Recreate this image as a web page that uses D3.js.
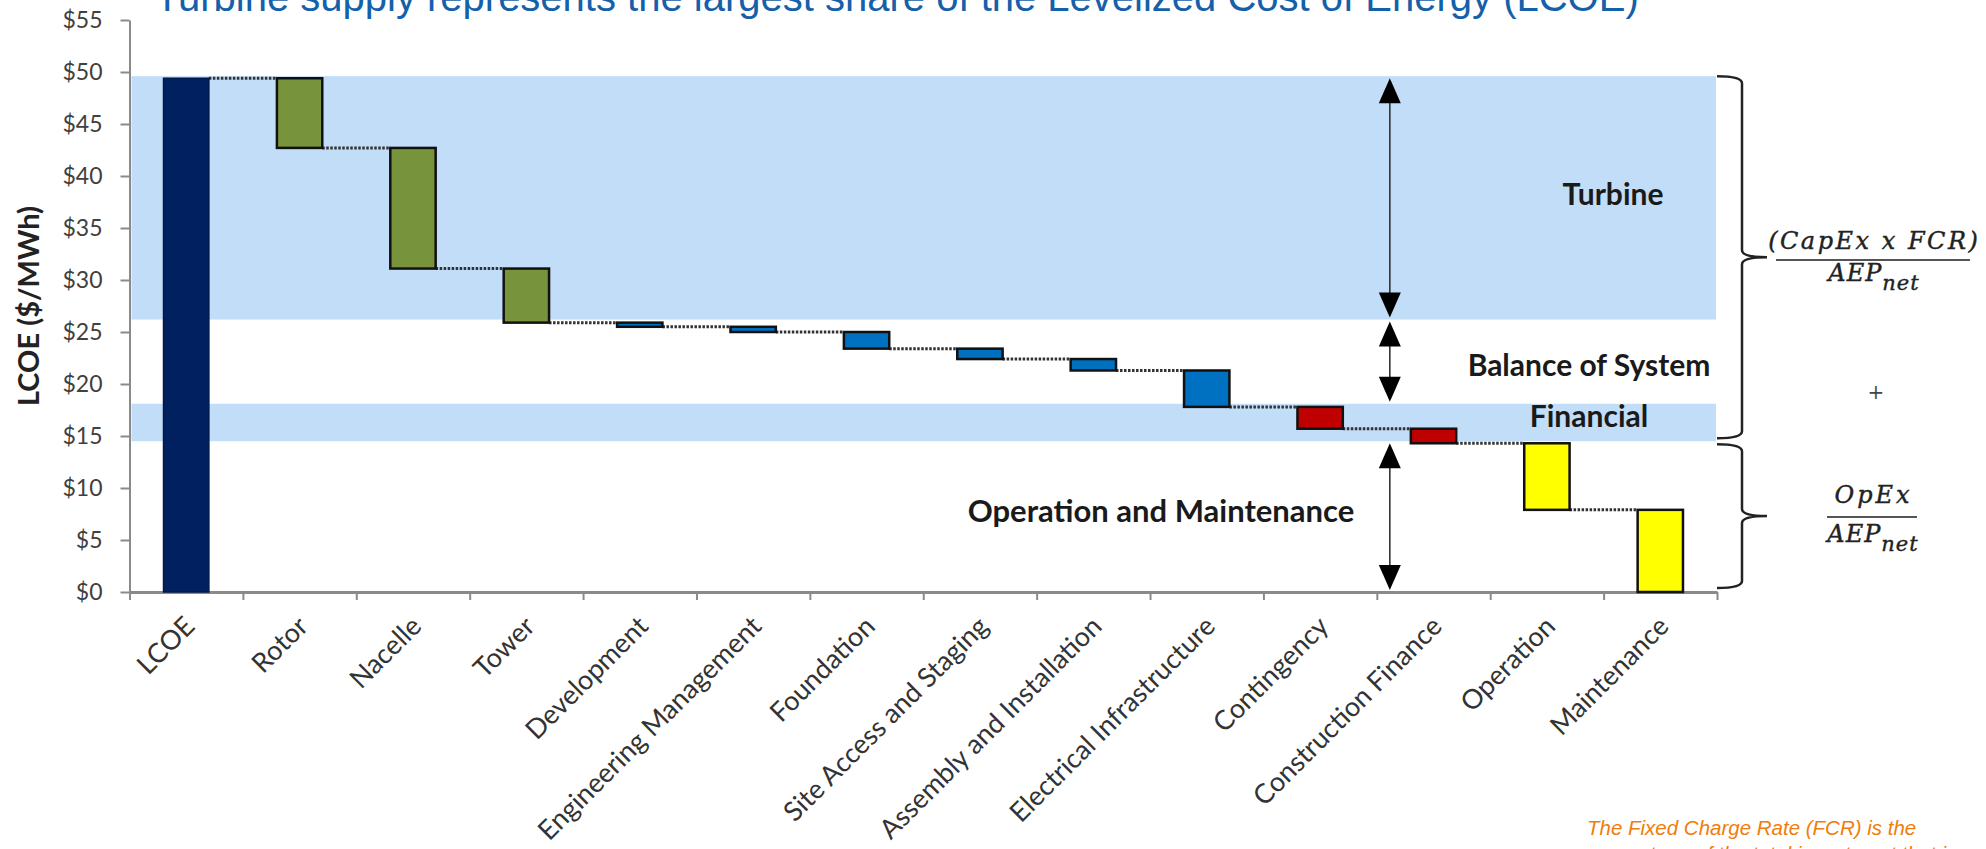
<!DOCTYPE html>
<html>
<head>
<meta charset="utf-8">
<script src="https://cdn.jsdelivr.net/npm/d3@7"></script>
<style>
  html, body { margin: 0; padding: 0; background: #fff; }
  svg { display: block; }
</style>
</head>
<body>
<svg id="chart" width="1986" height="849"></svg>
<script>
// ---- data ($/MWh) ----
const categories = ["LCOE", "Rotor", "Nacelle", "Tower", "Development", "Engineering Management",
  "Foundation", "Site Access and Staging", "Assembly and Installation", "Electrical Infrastructure",
  "Contingency", "Construction Finance", "Operation", "Maintenance"];
const lcoeTotal = 49.4;
// cost of each component, Rotor .. Maintenance
const componentCosts = [6.7, 11.6, 5.2, 0.4, 0.5, 1.6, 1.0, 1.1, 3.5, 2.1, 1.4, 6.4, 7.9];
const componentGroups = ["Turbine", "Turbine", "Turbine", "BOS", "BOS", "BOS", "BOS", "BOS", "BOS",
  "Financial", "Financial", "OM", "OM"];
const yTicks = [0, 5, 10, 15, 20, 25, 30, 35, 40, 45, 50, 55];

// shaded cost regions [bottom, top]
const turbineBand = [26.2, 49.6];
const financialBand = [14.5, 18.1];
// double arrows spanning the Turbine, Balance of System and O&M regions
const arrowSpans = [[49.6, 26.2], [26.2, 18.1], [14.5, 0]];
// braces: capital-cost part and operating-cost part of LCOE
const braceSpans = [[49.6, 14.5], [14.5, 0]];

const groupColors = { Turbine: "#77933C", BOS: "#0070C0", Financial: "#C00000", OM: "#FFFF00" };

// ---- layout ----
const svg = d3.select("#chart");
const plotLeft = 129.5, plotRight = 1717, plotBottom = 592, plotTop = 20;

const y = d3.scaleLinear().domain([0, 55]).range([plotBottom, plotTop]);
const x = d3.scaleBand().domain(categories).range([plotLeft, plotRight])
  .paddingInner(0.6).paddingOuter(0.3);
const boundary = d3.scaleLinear().domain([0, categories.length]).range([plotLeft, plotRight]);

// title (partly above the page edge)
svg.append("text")
  .attr("x", 155).attr("y", 11)
  .attr("font-family", "'Liberation Sans', Arial, sans-serif")
  .attr("font-size", 40)
  .attr("fill", "#1460aa")
  .text("Turbine supply represents the largest share of the Levelized Cost of Energy (LCOE)");

// shaded regions
[turbineBand, financialBand].forEach(b => {
  svg.append("rect")
    .attr("x", plotLeft + 2).attr("width", plotRight - plotLeft - 3)
    .attr("y", y(b[1])).attr("height", y(b[0]) - y(b[1]))
    .attr("fill", "#C2DDF7");
});

// y axis
const yAxis = svg.append("g")
  .attr("transform", `translate(${plotLeft},0)`)
  .call(d3.axisLeft(y).tickValues(yTicks).tickSize(9).tickSizeOuter(0).tickPadding(18)
    .tickFormat(d => "$" + d));
yAxis.select(".domain").attr("stroke", "#8a8a8a").attr("stroke-width", 2);
yAxis.selectAll(".tick line").attr("stroke", "#8a8a8a").attr("stroke-width", 2);
yAxis.selectAll(".tick text")
  .attr("font-family", "Lato, sans-serif").attr("font-size", 23).attr("fill", "#404040");

svg.append("text")
  .attr("transform", `translate(39,306) rotate(-90)`)
  .attr("text-anchor", "middle")
  .attr("font-family", "Lato, sans-serif").attr("font-weight", "bold").attr("font-size", 29)
  .attr("fill", "#222")
  .text("LCOE ($/MWh)");

// x axis: line with ticks at category boundaries
const xAxis = svg.append("g")
  .attr("transform", `translate(0,${plotBottom})`)
  .call(d3.axisBottom(boundary).tickValues(d3.range(categories.length + 1))
    .tickFormat("").tickSize(8).tickSizeOuter(0));
xAxis.select(".domain").attr("stroke", "#8a8a8a").attr("stroke-width", 3);
xAxis.selectAll(".tick line").attr("stroke", "#8a8a8a").attr("stroke-width", 2);

svg.append("g").selectAll("text")
  .data(categories).join("text")
  .attr("transform", d => `translate(${x(d) + x.bandwidth() / 2 + 10},628) rotate(-45)`)
  .attr("text-anchor", "end")
  .attr("font-family", "Lato, sans-serif").attr("font-size", 27)
  .attr("fill", "#333")
  .text(d => d);

// waterfall segments
let running = lcoeTotal;
const segments = componentCosts.map((c, i) => {
  const seg = { name: categories[i + 1], top: running, bottom: running - c, group: componentGroups[i] };
  running -= c;
  return seg;
});

// dotted connectors between consecutive bars
const levels = [lcoeTotal].concat(segments.slice(0, -1).map(s => s.bottom));
svg.append("g").selectAll("line")
  .data(levels).join("line")
  .attr("x1", (d, i) => x(categories[i]) + x.bandwidth())
  .attr("x2", (d, i) => x(categories[i + 1]))
  .attr("y1", d => y(d)).attr("y2", d => y(d))
  .attr("stroke", "#333").attr("stroke-width", 3).attr("stroke-dasharray", "2.5,1.5");

// total bar
svg.append("rect")
  .attr("x", x("LCOE")).attr("width", x.bandwidth())
  .attr("y", y(lcoeTotal)).attr("height", y(0) - y(lcoeTotal))
  .attr("fill", "#002060").attr("stroke", "#001a4d").attr("stroke-width", 1.5);

// component bars
svg.append("g").selectAll("rect")
  .data(segments).join("rect")
  .attr("x", d => x(d.name)).attr("width", x.bandwidth())
  .attr("y", d => y(d.top)).attr("height", d => y(d.bottom) - y(d.top))
  .attr("fill", d => groupColors[d.group])
  .attr("stroke", "#111").attr("stroke-width", 2.5);

// double-headed arrows
const arrowX = boundary(11) + 13;
const headL = 25, headW = 11;
arrowSpans.forEach(([top, bot]) => {
  const yt = y(top) + 2, yb = y(bot) - 2;
  svg.append("line")
    .attr("x1", arrowX).attr("x2", arrowX)
    .attr("y1", yt + headL - 2).attr("y2", yb - headL + 2)
    .attr("stroke", "#333").attr("stroke-width", 1.6);
  svg.append("path")
    .attr("d", `M${arrowX},${yt} L${arrowX - headW},${yt + headL} L${arrowX + headW},${yt + headL} Z`)
    .attr("fill", "#000");
  svg.append("path")
    .attr("d", `M${arrowX},${yb} L${arrowX - headW},${yb - headL} L${arrowX + headW},${yb - headL} Z`)
    .attr("fill", "#000");
});

// region labels
function regionLabel(txt, cx, baseline, size) {
  svg.append("text")
    .attr("x", cx).attr("y", baseline)
    .attr("text-anchor", "middle")
    .attr("font-family", "Lato, sans-serif").attr("font-weight", "bold")
    .attr("font-size", size).attr("fill", "#1a1a1a")
    .text(txt);
}
regionLabel("Turbine", 1613, 205, 30);
regionLabel("Balance of System", 1589, 376, 30);
regionLabel("Financial", 1589, 427, 30);
regionLabel("Operation and Maintenance", 1161, 522, 31);

// braces on the right
function brace(yTop, yBot) {
  const xt = plotRight, xs = plotRight + 25, xc = plotRight + 50;
  const ym = (yTop + yBot) / 2, r = 7;
  return `M${xt},${yTop} Q${xs},${yTop} ${xs},${yTop + r} L${xs},${ym - r} Q${xs},${ym} ${xc},${ym}`
    + ` Q${xs},${ym} ${xs},${ym + r} L${xs},${yBot - r} Q${xs},${yBot} ${xt},${yBot}`;
}
svg.append("path").attr("d", brace(y(braceSpans[0][0]), y(braceSpans[0][1]) - 3))
  .attr("fill", "none").attr("stroke", "#222").attr("stroke-width", 2.5);
svg.append("path").attr("d", brace(y(braceSpans[1][0]) + 3, y(braceSpans[1][1]) - 4))
  .attr("fill", "none").attr("stroke", "#222").attr("stroke-width", 2.5);

// LCOE formula terms
const mathFont = "'DejaVu Serif', 'Liberation Serif', serif";
function fraction(cx, numText, lineY, lineHalf, numGap, denGap, spacing) {
  svg.append("text")
    .attr("x", cx + spacing / 2).attr("y", lineY - numGap)
    .attr("text-anchor", "middle")
    .attr("font-family", mathFont).attr("font-style", "italic").attr("font-size", 24)
    .attr("letter-spacing", spacing)
    .attr("fill", "#222").attr("stroke", "#222").attr("stroke-width", 0.4)
    .text(numText);
  svg.append("line")
    .attr("x1", cx - lineHalf).attr("x2", cx + lineHalf)
    .attr("y1", lineY).attr("y2", lineY)
    .attr("stroke", "#555").attr("stroke-width", 2);
  const den = svg.append("text")
    .attr("x", cx + 1).attr("y", lineY + denGap)
    .attr("text-anchor", "middle")
    .attr("font-family", mathFont).attr("font-style", "italic").attr("font-size", 24)
    .attr("letter-spacing", 1)
    .attr("fill", "#222").attr("stroke", "#222").attr("stroke-width", 0.4);
  den.append("tspan").text("AEP");
  den.append("tspan").attr("dy", 9).attr("font-size", 21).text("net");
}
fraction(1873, "(CapEx x FCR)", 260, 97, 11, 21, 2.5);
fraction(1872, "OpEx", 517, 45, 14, 25, 3);

svg.append("text")
  .attr("x", 1876).attr("y", 399)
  .attr("text-anchor", "middle")
  .attr("font-family", mathFont).attr("font-size", 20).attr("fill", "#444")
  .text("+");

// footnote
const note = svg.append("text")
  .attr("font-family", "'Liberation Sans', Arial, sans-serif")
  .attr("font-style", "italic").attr("font-size", 20.5)
  .attr("fill", "#F07D0A");
note.append("tspan").attr("x", 1587).attr("y", 835).text("The Fixed Charge Rate (FCR) is the");
note.append("tspan").attr("x", 1587).attr("y", 861).text("percentage of the total investment that is");
</script>
</body>
</html>
